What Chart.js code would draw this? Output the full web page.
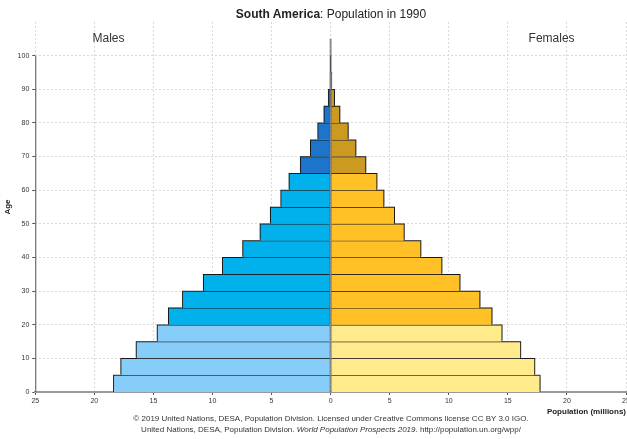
<!DOCTYPE html>
<html>
<head>
<meta charset="utf-8">
<script src="https://cdn.jsdelivr.net/npm/chart.js@4.4.1/dist/chart.umd.min.js"></script>
<style>
    html, body { margin: 0; padding: 0; background: #fff; }
    #wrap {
        position: relative; width: 627px; height: 439px;
        font-family: "Liberation Sans Narrow", "Arial Narrow", "Liberation Sans", Arial, sans-serif;
        color: #222;
    }
    #title { position: absolute; top: 7px; left: 36px; width: 590px; text-align: center; font-size: 12px; line-height: 14px; }
    .foot { position: absolute; left: 36px; width: 590px; text-align: center; font-size: 8px; line-height: 10px; color: #333; }
    canvas { position: absolute; left: 0; top: 0; }
</style>
</head>
<body>
<div id="wrap">
    <canvas id="pyramid" width="627" height="439"></canvas>
    <div id="title"><b>South America</b>: Population in 1990</div>
    <div class="foot" style="top:414px;">© 2019 United Nations, DESA, Population Division. Licensed under Creative Commons license CC BY 3.0 IGO.</div>
    <div class="foot" style="top:425px;">United Nations, DESA, Population Division. <i>World Population Prospects 2019</i>. http://population.un.org/wpp/</div>
</div>

<script>
//------------Data-----------------

const ageGroups = ['0-4', '5-9', '10-14', '15-19', '20-24', '25-29', '30-34', '35-39', '40-44', '45-49',
                   '50-54', '55-59', '60-64', '65-69', '70-74', '75-79', '80-84', '85-89', '90-94', '95-99'];
const ageStart = [0, 5, 10, 15, 20, 25, 30, 35, 40, 45, 50, 55, 60, 65, 70, 75, 80, 85, 90, 95];

// population in millions
const maleValues = [18.39, 17.77, 16.47, 14.69, 13.74, 12.55, 10.78, 9.17, 7.45, 5.98,
                    5.11, 4.23, 3.53, 2.57, 1.72, 1.10, 0.57, 0.20, 0.05, 0.01];
const femaleValues = [17.74, 17.29, 16.10, 14.52, 13.67, 12.65, 10.96, 9.43, 7.65, 6.24,
                      5.42, 4.52, 3.93, 2.99, 2.15, 1.50, 0.79, 0.34, 0.10, 0.02];

const xTickValues = [-25, -20, -15, -10, -5, 0, 5, 10, 15, 20, 25];
const yTickValues = [0, 10, 20, 30, 40, 50, 60, 70, 80, 90, 100];

const sideLabels = ['Males', 'Females'];

//------------Data-----------------

const FONT = '"Liberation Sans Narrow", "Arial Narrow", "Liberation Sans", Arial, sans-serif';

// colour by age band: young / working / old
function bandColor(start, young, mid, old) {
    if (start < 20) return young;
    if (start < 65) return mid;
    return old;
}

const maleColors = ageStart.map(a => bandColor(a, '#87cdf9', '#00b1ec', '#1c74cb'));
const femaleColors = ageStart.map(a => bandColor(a, '#ffea8c', '#ffc126', '#cc9a20'));

const bandSize = ageStart[1] - ageStart[0];
const maleData = maleValues.map((v, i) => ({ x: -v, y: ageStart[i] + bandSize / 2 }));
const femaleData = femaleValues.map((v, i) => ({ x: v, y: ageStart[i] + bandSize / 2 }));

// grey drop shadow behind each side
const shadowPlugin = {
    id: 'barShadow',
    beforeDatasetDraw(chart, args) {
        const ctx = chart.ctx;
        ctx.save();
        ctx.shadowColor = 'rgba(0,0,0,0.45)';
        ctx.shadowBlur = 1;
        ctx.shadowOffsetX = args.index === 0 ? -1.5 : 1.5;
        ctx.shadowOffsetY = -1.5;
    },
    afterDatasetDraw(chart) {
        chart.ctx.restore();
    }
};

// centre line, left axis line and Males / Females labels
const decoPlugin = {
    id: 'deco',
    afterDatasetsDraw(chart) {
        const ctx = chart.ctx;
        const x = chart.scales.x;
        const y = chart.scales.y;
        const area = chart.chartArea;

        ctx.save();
        ctx.strokeStyle = 'rgba(70,70,70,0.6)';
        ctx.lineWidth = 2;
        ctx.beginPath();
        ctx.moveTo(x.getPixelForValue(0), y.getPixelForValue(105));
        ctx.lineTo(x.getPixelForValue(0), y.getPixelForValue(0));
        ctx.stroke();

        ctx.strokeStyle = '#555';
        ctx.lineWidth = 1;
        ctx.beginPath();
        ctx.moveTo(area.left + 0.5, y.getPixelForValue(100));
        ctx.lineTo(area.left + 0.5, y.getPixelForValue(0));
        ctx.stroke();

        ctx.fillStyle = '#333';
        ctx.font = '12px ' + FONT;
        ctx.textAlign = 'center';
        ctx.textBaseline = 'middle';
        ctx.fillText(sideLabels[0], x.getPixelForValue(-18.8), y.getPixelForValue(105));
        ctx.fillText(sideLabels[1], x.getPixelForValue(18.7), y.getPixelForValue(105));
        ctx.restore();
    }
};

const ctx = document.getElementById('pyramid').getContext('2d');

new Chart(ctx, {
    type: 'bar',
    data: {
        datasets: [{
            label: 'Males',
            data: maleData,
            backgroundColor: maleColors,
            stack: 'pop'
        }, {
            label: 'Females',
            data: femaleData,
            backgroundColor: femaleColors,
            stack: 'pop'
        }]
    },
    options: {
        indexAxis: 'y',
        responsive: false,
        animation: false,
        layout: {
            autoPadding: false,
            padding: { top: 22, right: 1, bottom: 22, left: 1 }
        },
        datasets: {
            bar: {
                barPercentage: 1,
                categoryPercentage: 1,
                borderColor: '#2b2b2b',
                borderWidth: { top: 1, bottom: 0, left: 1, right: 1 },
                borderSkipped: 'start'
            }
        },
        plugins: {
            legend: { display: false },
            tooltip: { enabled: false }
        },
        scales: {
            x: {
                type: 'linear',
                min: xTickValues[0],
                max: xTickValues[xTickValues.length - 1],
                afterBuildTicks: scale => { scale.ticks = xTickValues.map(v => ({ value: v })); },
                // let the last tick label run off the edge, as in the original
                afterFit: scale => { scale.paddingLeft = 0; scale.paddingRight = 0; },
                ticks: {
                    color: '#333',
                    font: { family: FONT, size: 7 },
                    padding: 2,
                    maxRotation: 0,
                    callback: v => Math.abs(v)
                },
                grid: {
                    color: '#dadada',
                    tickColor: '#555',
                    tickLength: 3,
                    tickBorderDash: []
                },
                border: { color: '#9a9a9a', width: 2, dash: [2, 2] },
                title: {
                    display: true,
                    text: 'Population (millions)',
                    align: 'end',
                    color: '#222',
                    font: { family: FONT, size: 8, weight: 'bold' },
                    padding: { top: 0, bottom: 0 }
                }
            },
            y: {
                type: 'linear',
                min: 0,
                max: 110,
                offset: false,
                afterBuildTicks: scale => { scale.ticks = yTickValues.map(v => ({ value: v })); },
                afterFit: scale => { scale.paddingTop = 0; scale.paddingBottom = 0; },
                ticks: {
                    color: '#333',
                    font: { family: FONT, size: 7 },
                    padding: 3
                },
                grid: {
                    offset: false,
                    color: '#dadada',
                    tickColor: '#555',
                    tickLength: 3,
                    tickBorderDash: []
                },
                border: { display: false, dash: [2, 2] },
                title: {
                    display: true,
                    text: 'Age',
                    color: '#222',
                    font: { family: FONT, size: 8, weight: 'bold' },
                    padding: { top: 2, bottom: 2 }
                }
            }
        }
    },
    plugins: [shadowPlugin, decoPlugin]
});
</script>
</body>
</html>
